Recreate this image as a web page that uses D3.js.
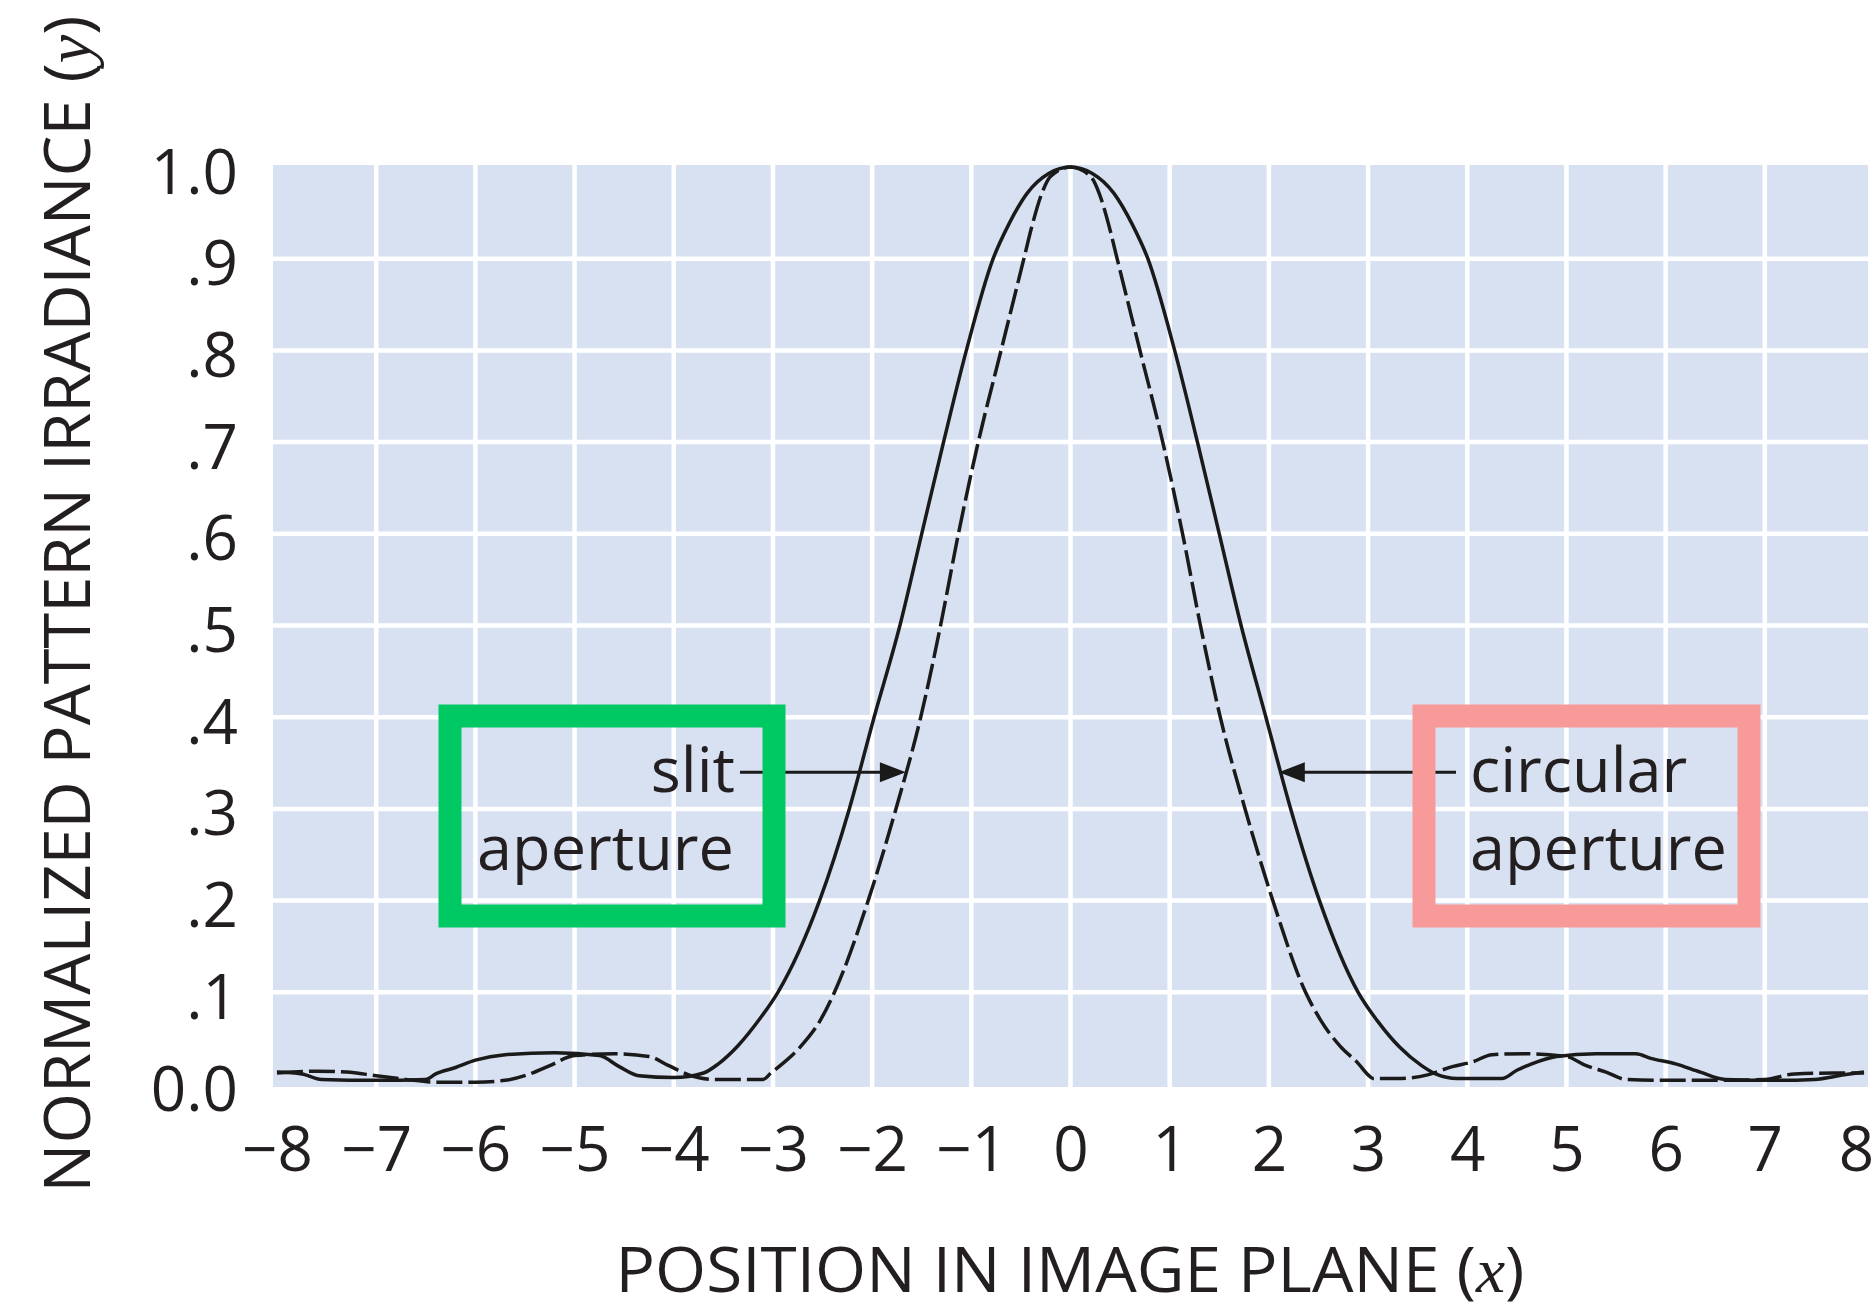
<!DOCTYPE html>
<html>
<head>
<meta charset="utf-8">
<script src="https://cdn.jsdelivr.net/npm/d3@7"></script>
<style>
  body { margin: 0; background: #fff; }
  text { font-family: "Open Sans", sans-serif; fill: #231f20; }
</style>
</head>
<body>
<main></main>
<script>
// tick values and labels
const xTicks = [-8, -7, -6, -5, -4, -3, -2, -1, 0, 1, 2, 3, 4, 5, 6, 7, 8];
const yTicks = [0, 0.1, 0.2, 0.3, 0.4, 0.5, 0.6, 0.7, 0.8, 0.9, 1.0];
const yTickLabels = ["0.0", ".1", ".2", ".3", ".4", ".5", ".6", ".7", ".8", ".9", "1.0"];

// circular aperture (solid line)
const circX = [-8.0, -7.75, -7.55, -7.0, -6.5, -6.4, -6.2, -6.0, -5.7, -5.2, -4.75, -4.55, -4.35, -4.0,
  -3.7, -3.55, -3.35, -3.14, -2.95, -2.53, -2.23, -1.98, -1.72, -1.5, -1.28, -1.05, -0.78, -0.62,
  -0.44, -0.22, 0,
  0.22, 0.44, 0.62, 0.78, 1.05, 1.28, 1.5, 1.72, 1.97, 2.22, 2.51, 2.9,
  3.1, 3.32, 3.54, 3.68, 3.9, 4.35, 4.5, 4.65, 4.9, 5.3, 5.7, 5.85, 6.1, 6.35, 6.6, 7.1, 7.5, 7.8, 8.0];
const circY = [0.013, 0.011, 0.005, 0.004, 0.005, 0.011, 0.018, 0.026, 0.032, 0.034, 0.031, 0.019, 0.009, 0.007,
  0.012, 0.022, 0.042, 0.07, 0.1, 0.2, 0.3, 0.4, 0.5, 0.6, 0.7, 0.8, 0.9, 0.938,
  0.971, 0.993, 1.0,
  0.993, 0.971, 0.938, 0.9, 0.8, 0.7, 0.6, 0.5, 0.4, 0.3, 0.2, 0.1,
  0.068, 0.04, 0.02, 0.011, 0.006, 0.006, 0.015, 0.022, 0.03, 0.033, 0.033, 0.028, 0.022, 0.013, 0.005, 0.004, 0.005, 0.01, 0.013];

// slit aperture (dashed line)
const slitX = [-8.0, -7.6, -7.3, -7.0, -6.7, -6.4, -6.0, -5.7, -5.45, -5.25, -5.0, -4.6, -4.25, -4.05,
  -3.85, -3.6, -3.1, -3.02, -2.9, -2.72, -2.52, -2.38, -2.04, -1.76, -1.51, -1.31, -1.13, -0.93,
  -0.7, -0.47, -0.39, -0.29, -0.2, 0,
  0.2, 0.29, 0.39, 0.47, 0.7, 0.93, 1.13, 1.31, 1.51, 1.76, 2.04, 2.37, 2.52, 2.72, 2.9, 3.0,
  3.05, 3.3, 3.6, 3.85, 4.05, 4.25, 4.6, 5.0, 5.2, 5.4, 5.6, 6.0, 6.5, 7.0, 7.3, 7.7, 8.0];
const slitY = [0.012, 0.014, 0.013, 0.009, 0.005, 0.002, 0.002, 0.004, 0.011, 0.02, 0.031, 0.033, 0.03, 0.02,
  0.01, 0.005, 0.005, 0.012, 0.0225, 0.041, 0.07, 0.1, 0.2, 0.3, 0.4, 0.5, 0.6, 0.7,
  0.8, 0.9, 0.935, 0.971, 0.99, 1.0,
  0.99, 0.971, 0.935, 0.9, 0.8, 0.7, 0.6, 0.5, 0.4, 0.3, 0.2, 0.1, 0.07, 0.041, 0.0225, 0.01,
  0.006, 0.006, 0.01, 0.019, 0.024, 0.032, 0.033, 0.03, 0.02, 0.013, 0.005, 0.004, 0.004, 0.005, 0.011, 0.012, 0.012];

const W = 1876;
const H = 1314;
const margin = { top: 167, right: 12, bottom: 230, left: 277 };
const w = W - margin.left - margin.right;
const h = H - margin.top - margin.bottom;

const xScale = d3.scaleLinear().domain([-8, 8]).range([0, w]);
const yScale = d3.scaleLinear().domain([0, 1]).range([h, 0]);

const root = d3
  .select("main")
  .append("svg")
  .attr("width", W)
  .attr("height", H);

const svg = root
  .append("g")
  .attr("transform", `translate(${margin.left},${margin.top})`);

// plot background
svg
  .append("rect")
  .attr("x", -4)
  .attr("y", -2)
  .attr("width", w + 8)
  .attr("height", h + 5)
  .attr("fill", "#d8e1f2");

// white grid
svg
  .selectAll(".vgrid")
  .data(xTicks.filter(d => d > -8 && d < 8))
  .enter()
  .append("line")
  .attr("x1", d => xScale(d))
  .attr("x2", d => xScale(d))
  .attr("y1", -2)
  .attr("y2", h + 3)
  .attr("stroke", "#fff")
  .attr("stroke-width", 4.5);

svg
  .selectAll(".hgrid")
  .data(yTicks.filter(d => d > 0 && d < 1))
  .enter()
  .append("line")
  .attr("x1", -4)
  .attr("x2", w + 4)
  .attr("y1", d => yScale(d))
  .attr("y2", d => yScale(d))
  .attr("stroke", "#fff")
  .attr("stroke-width", 4.5);

// axes
const xAxis = svg
  .append("g")
  .attr("transform", `translate(0,${h})`)
  .call(
    d3
      .axisBottom(xScale)
      .tickValues(xTicks)
      .tickSize(0)
      .tickPadding(43)
      .tickFormat(d => (d < 0 ? "\u2212" + Math.abs(d) : String(d)))
  );

const yAxis = svg
  .append("g")
  .call(
    d3
      .axisLeft(yScale)
      .tickValues(yTicks)
      .tickSize(0)
      .tickPadding(39)
      .tickFormat((d, i) => yTickLabels[i])
  );

[xAxis, yAxis].forEach(a => {
  a.select(".domain").remove();
  a.selectAll("text")
    .style("font-family", '"Open Sans", sans-serif')
    .style("font-size", "62px")
    .attr("fill", "#231f20");
});
yAxis.selectAll("text").attr("dy", "0.42em");
// last label sits right at the page edge
xAxis
  .selectAll("text")
  .filter(d => d === 8)
  .attr("dx", -8);

// the two curves
const line = d3
  .line()
  .x(d => xScale(d[0]))
  .y(d => yScale(d[1]))
  .curve(d3.curveMonotoneX);

svg
  .append("path")
  .datum(d3.zip(slitX, slitY))
  .attr("d", line)
  .attr("fill", "none")
  .attr("stroke", "#1a1a1a")
  .attr("stroke-width", 3.5)
  .attr("stroke-dasharray", "26,6");

svg
  .append("path")
  .datum(d3.zip(circX, circY))
  .attr("d", line)
  .attr("fill", "none")
  .attr("stroke", "#1a1a1a")
  .attr("stroke-width", 3.5);

// leader lines with arrowheads
const arrowY = yScale(0.34);
const slitTip = xScale(-1.66);
const circTip = xScale(2.1);

svg
  .append("line")
  .attr("x1", 740 - margin.left)
  .attr("x2", slitTip - 24)
  .attr("y1", arrowY)
  .attr("y2", arrowY)
  .attr("stroke", "#1a1a1a")
  .attr("stroke-width", 3);
svg
  .append("path")
  .attr("d", `M${slitTip},${arrowY} L${slitTip - 26},${arrowY - 10} L${slitTip - 26},${arrowY + 10} Z`)
  .attr("fill", "#1a1a1a");

svg
  .append("line")
  .attr("x1", circTip + 24)
  .attr("x2", 1456 - margin.left)
  .attr("y1", arrowY)
  .attr("y2", arrowY)
  .attr("stroke", "#1a1a1a")
  .attr("stroke-width", 3);
svg
  .append("path")
  .attr("d", `M${circTip},${arrowY} L${circTip + 26},${arrowY - 10} L${circTip + 26},${arrowY + 10} Z`)
  .attr("fill", "#1a1a1a");

// annotation labels
const note = (x, y, anchor, str) =>
  root
    .append("text")
    .attr("x", x)
    .attr("y", y)
    .attr("text-anchor", anchor)
    .style("font-size", "63px")
    .text(str);

note(735, 792, "end", "slit");
note(734, 870, "end", "aperture");
note(1470, 792, "start", "circular");
note(1470, 870, "start", "aperture");

// highlight boxes
root
  .append("rect")
  .attr("x", 450)
  .attr("y", 716)
  .attr("width", 324)
  .attr("height", 200)
  .attr("fill", "none")
  .attr("stroke", "#00c862")
  .attr("stroke-width", 23);

root
  .append("rect")
  .attr("x", 1424)
  .attr("y", 716)
  .attr("width", 325)
  .attr("height", 200)
  .attr("fill", "none")
  .attr("stroke", "#f89a9a")
  .attr("stroke-width", 23);

// axis titles
const xTitle = root
  .append("text")
  .attr("x", 1070)
  .attr("y", 1292)
  .attr("text-anchor", "middle")
  .attr("textLength", 909)
  .attr("lengthAdjust", "spacingAndGlyphs")
  .style("font-size", "63px");
xTitle.append("tspan").text("POSITION IN IMAGE PLANE (");
xTitle
  .append("tspan")
  .style("font-family", '"Liberation Serif", serif')
  .style("font-style", "italic")
  .text("x");
xTitle.append("tspan").text(")");

const yTitle = root
  .append("text")
  .attr("transform", "translate(90,604) rotate(-90)")
  .attr("text-anchor", "middle")
  .attr("textLength", 1177)
  .attr("lengthAdjust", "spacingAndGlyphs")
  .style("font-size", "64px");
yTitle.append("tspan").text("NORMALIZED PATTERN IRRADIANCE (");
yTitle
  .append("tspan")
  .style("font-family", '"Liberation Serif", serif')
  .style("font-style", "italic")
  .text("y");
yTitle.append("tspan").text(")");
</script>
</body>
</html>
